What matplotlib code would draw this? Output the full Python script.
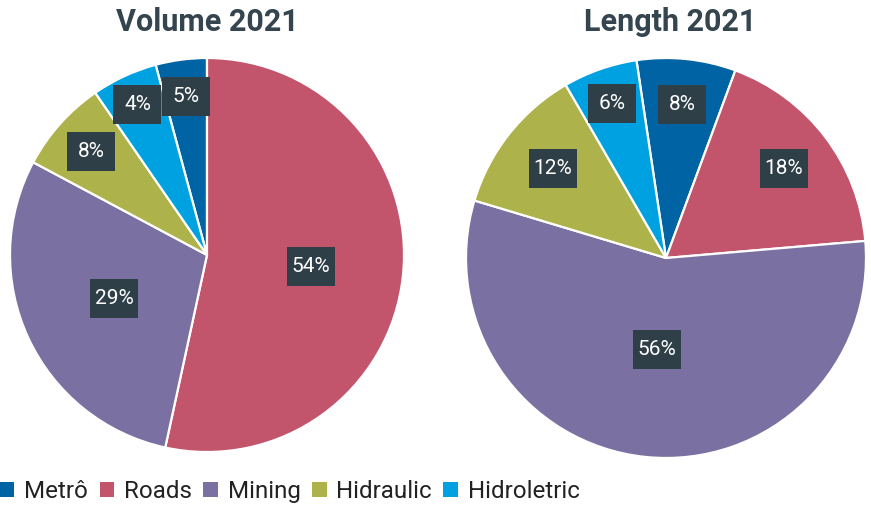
import matplotlib
matplotlib.use("Agg")
import matplotlib.pyplot as plt
import numpy as np
from matplotlib.patches import Patch, Rectangle

# data
categories = ["Metrô", "Roads", "Mining", "Hidraulic", "Hidroletric"]
volume_values = [4.2, 53.4, 29.4, 7.6, 5.4]
volume_labels = ["5%", "54%", "29%", "8%", "4%"]
length_values = [8, 18, 56, 12, 6]
length_labels = ["8%", "18%", "56%", "12%", "6%"]

COLORS = ["#0063a3", "#c2546b", "#7b70a2", "#aeb24a", "#00a1e1"]
BOX = "#2f3f48"
TITLE = "#34454f"
FIG_W, FIG_H = 871, 505

# label distance from centre (fraction of radius), per wedge
volume_label_r = [0.81, 0.53, 0.52, 0.79, 0.84]
length_label_r = [0.77, 0.74, 0.46, 0.72, 0.82]

FONT = ["Roboto", "DejaVu Sans"]


def pie_axes(fig, cx, cy, r):
    """Axes whose box is exactly the pie circle (pixel coords from top-left)."""
    ax = fig.add_axes([(cx - r) / FIG_W, (FIG_H - cy - r) / FIG_H,
                       2 * r / FIG_W, 2 * r / FIG_H])
    return ax, r


def draw_pie(ax, r_px, values, labels, label_r, start, title, title_dx=0):
    wedges, _ = ax.pie(values, colors=COLORS, startangle=start, counterclock=False,
                       radius=1.0, wedgeprops=dict(edgecolor="white", linewidth=1.6))
    for w in wedges:
        w.set_clip_on(False)
    ax.set_xlim(-1, 1)
    ax.set_ylim(-1, 1)
    ax.set_aspect("equal")
    ax.axis("off")
    bw, bh = 48 / r_px, 39 / r_px
    for w, lab, lr in zip(wedges, labels, label_r):
        ang = np.deg2rad((w.theta1 + w.theta2) / 2)
        x, y = lr * np.cos(ang), lr * np.sin(ang)
        ax.add_patch(Rectangle((x - bw / 2, y - bh / 2), bw, bh, facecolor=BOX,
                               edgecolor="none", zorder=3, clip_on=False))
        ax.text(x, y, lab, ha="center", va="center", color="white", fontsize=15,
                family=FONT, zorder=4)
    ax.text(title_dx / r_px, 1.0 + 36 / r_px, title, ha="center", va="center",
            color=TITLE, fontsize=22, weight="bold", family=FONT)


fig = plt.figure(figsize=(FIG_W / 100, FIG_H / 100), dpi=100)

ax1, r1 = pie_axes(fig, 207, 255, 197)
draw_pie(ax1, r1, volume_values, volume_labels, volume_label_r,
         90 + 360 * volume_values[0] / sum(volume_values), "Volume 2021")

ax2, r2 = pie_axes(fig, 666, 258, 200)
draw_pie(ax2, r2, length_values, length_labels, length_label_r, 98.5,
         "Length 2021", title_dx=4)

handles = [Patch(facecolor=c, edgecolor="none") for c in COLORS]
fig.legend(handles, categories, loc="lower left", bbox_to_anchor=(0.0, 0.004),
           ncol=5, frameon=False, prop=dict(family=FONT, size=17.4),
           handlelength=0.6, handleheight=0.6, handletextpad=0.4,
           columnspacing=0.48, borderpad=0, borderaxespad=0, labelcolor="#222222")

fig.savefig("out.png", dpi=100)
